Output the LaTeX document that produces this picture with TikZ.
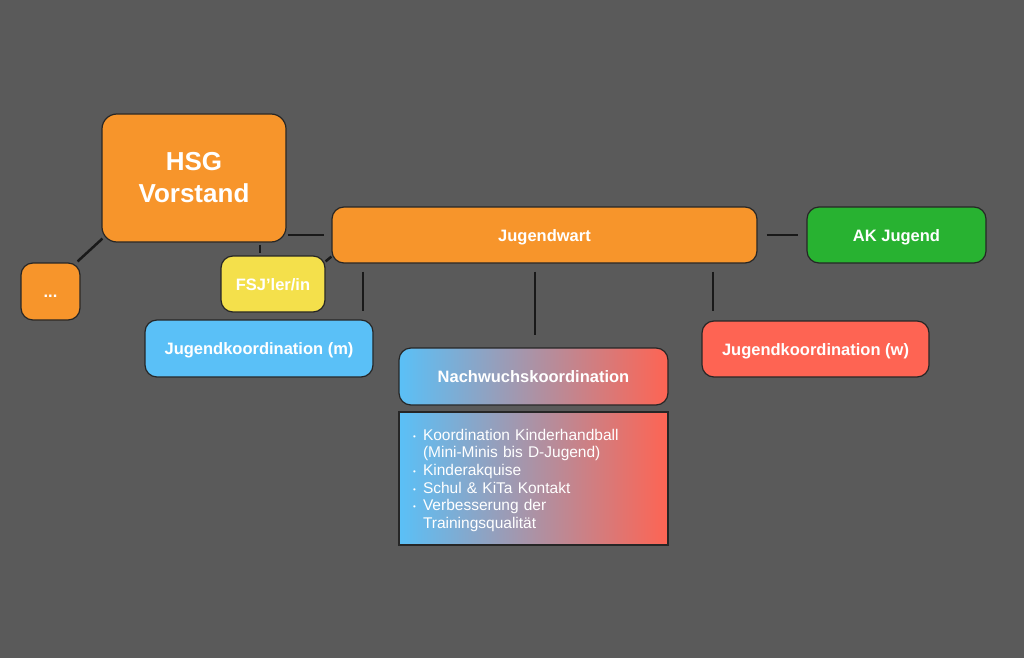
\documentclass[tikz,border=0pt]{standalone}
\usepackage{fontspec}
\setmainfont{Liberation Sans}
\definecolor{bg}{HTML}{5A5A5A}
\definecolor{hsgorange}{HTML}{F7952B}
\definecolor{fsjyellow}{HTML}{F4E04B}
\definecolor{akgreen}{HTML}{28B231}
\definecolor{mblue}{HTML}{5AC0F7}
\definecolor{wred}{HTML}{FE6453}
\newcommand{\bul}{\makebox[10pt][l]{\footnotesize\raisebox{1pt}{•}}}
\begin{document}
\begin{tikzpicture}[x=1pt,y=-1pt,
  box/.style={draw=black!85, line width=1.2pt, rounded corners=12pt, text=white,
    inner sep=0pt, text height=12.5pt, text depth=0pt,
    font=\bfseries\fontsize{16.5}{20}\selectfont},
  link/.style={draw=black!90, line width=2.5pt}]
%Background
\fill[bg] (0,0) rectangle (1024,658);
\useasboundingbox (0,0) rectangle (1024,658);

%Boxes
\node[box, fill=hsgorange, rounded corners=15pt, minimum width=184pt, minimum height=128pt,
  text height=, text depth=, align=center,
  font=\bfseries\fontsize{26}{32}\selectfont] (hsg) at (194,178) {HSG\\Vorstand};
\node[box, fill=hsgorange, minimum width=59pt, minimum height=57pt] (dots) at (50.5,291.5) {...};
\node[box, fill=hsgorange, minimum width=425pt, minimum height=56pt] (jw) at (544.5,235) {Jugendwart};
\node[box, fill=fsjyellow, minimum width=104pt, minimum height=56pt] (fsj) at (273,284) {FSJ’ler/in};
\node[box, fill=akgreen, minimum width=179pt, minimum height=56pt] (ak) at (896.5,235) {AK Jugend};
\node[box, fill=mblue, minimum width=228pt, minimum height=57pt] (jkm) at (259,348.5) {Jugendkoordination (m)};
\node[box, left color=mblue, right color=wred, minimum width=269pt, minimum height=57pt] (nw) at (533.5,376.5) {Nachwuchskoordination};
\node[box, fill=wred, minimum width=227pt, minimum height=56pt] (jkw) at (815.5,349) {Jugendkoordination (w)};

%Tasks
\node[box, rounded corners=0pt, left color=mblue, right color=wred, minimum width=269pt,
  minimum height=133pt, text width=241pt, inner xsep=14pt, align=left,
  text height=, text depth=, font=\fontsize{15.5}{17.7}\selectfont] (tasks) at (533.5,478.5)
  {\rule{0pt}{15pt}\bul Koordination Kinderhandball\\
   \hspace*{10pt}(Mini-Minis bis D-Jugend)\\
   \bul Kinderakquise\\
   \bul Schul \& KiTa Kontakt\\
   \bul Verbesserung der\\
   \hspace*{10pt}Trainingsqualität};

%Links
\coordinate (f) at (260,0);
\coordinate (m) at (363,0);
\coordinate (n) at (535,0);
\coordinate (w) at (713,0);
\draw[link] ([shift={(1,-4)}]hsg.south west) -- ([shift={(-3,-1)}]dots.north east);
\draw[link, shorten <=2pt, shorten >=2pt] (hsg.south -| f) -- (fsj.north -| f);
\draw[link, shorten <=1pt, shorten >=7pt] (hsg.east |- jw.west) -- (jw.west);
\draw[link] ([yshift=-6pt]fsj.north east) -- ([yshift=7pt]jw.south west);
\draw[link, shorten <=9pt, shorten >=8pt] (jw.east) -- (ak.west);
\draw[link, shorten <=8pt, shorten >=8pt] (jw.south -| m) -- (jkm.north -| m);
\draw[link, shorten <=8pt, shorten >=12pt] (jw.south -| n) -- (nw.north -| n);
\draw[link, shorten <=8pt, shorten >=9pt] (jw.south -| w) -- (jkw.north -| w);
\end{tikzpicture}
\end{document}
